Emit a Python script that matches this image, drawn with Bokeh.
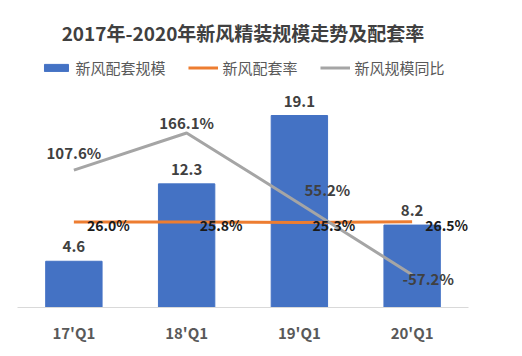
from bokeh.plotting import figure
from bokeh.models import Range1d, Legend, LegendItem, ColumnDataSource
from bokeh.core.properties import value
from bokeh.embed import file_html
from bokeh.resources import INLINE

# ---- data ----
categories = ["17'Q1", "18'Q1", "19'Q1", "20'Q1"]
scale_values = [4.6, 12.3, 19.1, 8.2]            # 新风配套规模
match_rate = [26.0, 25.8, 25.3, 26.5]            # 新风配套率 (%)
yoy_growth = [107.6, 166.1, 55.2, -57.2]         # 新风规模同比 (%)
title_text = "2017年-2020年新风精装规模走势及配套率"
series_names = ["新风配套规模", "新风配套率", "新风规模同比"]

# label placement (style only, screen pixels)
growth_dx = [0, 0, 28, 16]
growth_dy = [-18, -11, -14, 4]

FONT = "Noto Sans CJK SC"
BLUE, ORANGE, GRAY = "#4472C4", "#ED7D31", "#A5A5A5"

src = ColumnDataSource(dict(
    cat=categories,
    scale=scale_values,
    scale_lbl=[f"{v:.1f}" for v in scale_values],
    rate=match_rate,
    rate_lbl=[f"{v:.1f}%" for v in match_rate],
    yoy=yoy_growth,
    yoy_lbl=[f"{v:.1f}%" for v in yoy_growth],
    gdx=growth_dx,
    gdy=growth_dy,
))

p = figure(width=522, height=356, x_range=categories, y_range=Range1d(0, 25.07),
           output_backend="svg", toolbar_location=None, y_axis_location=None,
           min_border_left=17, min_border_right=54, min_border_top=55,
           min_border_bottom=49)
p.x_range.range_padding = 0
p.extra_y_ranges = {"pct": Range1d(-108.7, 288.2)}

p.title.text = title_text
p.title.align = "center"
p.title.text_font = FONT
p.title.text_font_size = "19px"
p.title.text_font_style = "bold"
p.title.text_color = "#404040"
p.title.standoff = 19

bars = p.vbar(x="cat", top="scale", width=0.5, source=src, color=BLUE)
l_rate = p.line(x="cat", y="rate", source=src, y_range_name="pct",
                line_color=ORANGE, line_width=3)
l_yoy = p.line(x="cat", y="yoy", source=src, y_range_name="pct",
               line_color=GRAY, line_width=3)

# data labels
p.text(x="cat", y="scale", text="scale_lbl", source=src, text_align="center",
       text_baseline="bottom", y_offset=-9, text_font=value(FONT),
       text_font_size="15px", text_font_style="bold", text_color="#404040")
p.text(x="cat", y="rate", text="rate_lbl", source=src, y_range_name="pct",
       text_align="left", text_baseline="middle", x_offset=13, y_offset=3,
       text_font=value(FONT), text_font_size="14px", text_font_style="bold",
       text_color="#1a1a1a")
p.text(x="cat", y="yoy", text="yoy_lbl", source=src, y_range_name="pct",
       text_align="center", text_baseline="middle", x_offset="gdx", y_offset="gdy",
       text_font=value(FONT), text_font_size="15px", text_font_style="bold",
       text_color="#404040")

legend = Legend(items=[LegendItem(label=series_names[0], renderers=[bars]),
                       LegendItem(label=series_names[1], renderers=[l_rate]),
                       LegendItem(label=series_names[2], renderers=[l_yoy])],
                orientation="horizontal", location="top_center",
                glyph_width=30, glyph_height=9, spacing=22, padding=0, margin=2,
                label_standoff=5, label_text_font=FONT, label_text_font_size="15px",
                label_text_color="#595959", border_line_color=None,
                background_fill_alpha=0)
p.add_layout(legend, "center")

p.xaxis.axis_line_color = "#D9D9D9"
p.xaxis.axis_line_width = 1
p.xaxis.major_tick_line_color = None
p.xaxis.minor_tick_line_color = None
p.xaxis.major_label_standoff = 8
p.xaxis.major_label_text_font = FONT
p.xaxis.major_label_text_font_size = "15px"
p.xaxis.major_label_text_font_style = "bold"
p.xaxis.major_label_text_color = "#595959"
p.xgrid.visible = False
p.ygrid.visible = False
p.outline_line_color = None

open("out.html", "w").write(file_html(p, INLINE))
